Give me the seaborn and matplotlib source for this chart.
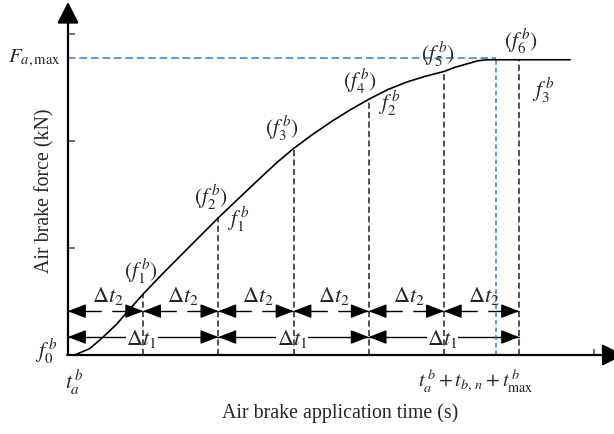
import numpy as np
import pandas as pd
import matplotlib
matplotlib.use("Agg")
import matplotlib.pyplot as plt
import seaborn as sns

# ---------------- data ----------------
curve_t = [0.09, 0.29, 0.47, 0.65, 0.81, 1.00, 1.30, 1.74, 2.01, 2.55, 2.78,
           3.00, 3.25, 3.50, 3.75, 4.00, 4.25, 4.50, 4.75, 5.00, 5.15, 5.30,
           5.45, 5.57, 6.68]
curve_f = [0.00, 0.06, 0.17, 0.29, 0.42, 0.57, 0.79, 1.10, 1.29, 1.65, 1.80,
           1.93, 2.06, 2.18, 2.29, 2.39, 2.48, 2.55, 2.605, 2.65, 2.69, 2.72,
           2.75, 2.76, 2.76]
step_t = [1, 2, 3, 4, 5, 6]
step_f = [0.57, 1.29, 1.93, 2.39, 2.65, 2.76]
f_max = 2.78
t_max = 5.69
y_ticks = [1, 2, 3]
x_ticks = [7.0]
dt2_bounds = [0, 1, 2, 3, 4, 5, 6]
dt1_bounds = [0, 2, 4, 6]
dt2_row = 0.41
dt1_row = 0.168

point_labels = [r"$(f_1^{\,b})$", r"$(f_2^{\,b})$", r"$f_1^{\,b}$", r"$(f_3^{\,b})$",
                r"$(f_4^{\,b})$", r"$f_2^{\,b}$", r"$(f_5^{\,b})$", r"$(f_6^{\,b})$",
                r"$f_3^{\,b}$"]
label_t = [0.97, 1.90, 2.27, 2.85, 3.88, 4.28, 4.92, 6.02, 6.32]
label_f = [0.78, 1.47, 1.27, 2.12, 2.56, 2.35, 2.81, 2.93, 2.47]

x_label = "Air brake application time (s)"
y_label = "Air brake force (kN)"

# ---------------- style ----------------
sns.set_style("white")
plt.rcParams["font.family"] = ["Liberation Serif", "DejaVu Serif"]
plt.rcParams["mathtext.fontset"] = "stix"

fig = plt.figure(figsize=(6.14, 4.34), dpi=100)
ax = fig.add_axes([68 / 614, 79 / 434, 545 / 614, 353 / 434])
ax.set_xlim(0, 7.25)
ax.set_ylim(0, 3.3)
for s in ax.spines.values():
    s.set_visible(False)
ax.set_facecolor("white")

df = pd.DataFrame({"t": curve_t, "f": curve_f})
sns.lineplot(data=df, x="t", y="f", ax=ax, color="black", lw=1.2,
             zorder=5, estimator=None, sort=False)
ax.set_xlabel("")
ax.set_ylabel("")

# ticks
ax.set_yticks(y_ticks)
ax.set_xticks(x_ticks)
ax.tick_params(axis="y", direction="in", length=5, width=1.1, color="#444444",
               labelleft=False, left=True)
ax.tick_params(axis="x", direction="in", length=4, width=1.1, color="#444444",
               labelbottom=False, bottom=True)

# axis arrows
ax_arrow = dict(arrowstyle="-|>,head_length=0.65,head_width=0.33",
                mutation_scale=20, lw=1.6, color="black",
                shrinkA=0, shrinkB=0)
ax.annotate("", xy=(0, 3.30), xytext=(0, 0), arrowprops=ax_arrow,
            annotation_clip=False, zorder=6)
ax.annotate("", xy=(7.39, 0), xytext=(-0.01, 0), arrowprops=ax_arrow,
            annotation_clip=False, zorder=6)

# dashed vertical step lines
for t, f in zip(step_t, step_f):
    ax.plot([t, t], [0, f], color="#222222", lw=1.1, dashes=(4, 2.2), zorder=4)

# blue max lines
blue = "#2f80c8"
ax.plot([0, t_max], [f_max, f_max], color=blue, lw=1.1, dashes=(5, 2.5), zorder=3)
ax.plot([t_max, t_max], [0, f_max], color=blue, lw=1.1, dashes=(3, 2), zorder=3)

# interval arrows
head = dict(arrowstyle="-|>,head_length=1.1,head_width=0.43",
            mutation_scale=10, lw=1, color="black", shrinkA=0, shrinkB=0)


def heads(a, b, row):
    ax.annotate("", xy=(a, row), xytext=(a + 0.2, row), arrowprops=head, zorder=4)
    ax.annotate("", xy=(b, row), xytext=(b - 0.2, row), arrowprops=head, zorder=4)


for a, b in zip(dt2_bounds[:-1], dt2_bounds[1:]):
    ax.plot([a, b], [dt2_row, dt2_row], color="black", lw=1, dashes=(24, 7.5),
            zorder=2)
    heads(a, b, dt2_row)
    ax.text((a + b) / 2 + 0.03, dt2_row + 0.14, r"$\Delta t_2$", ha="center",
            va="center", fontsize=16)

for a, b in zip(dt1_bounds[:-1], dt1_bounds[1:]):
    ax.plot([a, b], [dt1_row, dt1_row], color="black", lw=1, zorder=2)
    heads(a, b, dt1_row)
    ax.text((a + b) / 2 - 0.02, dt1_row - 0.02, r"$\Delta t_1$", ha="center",
            va="center", fontsize=16, zorder=3,
            bbox=dict(fc="white", ec="none", pad=0.5))

# point labels
for txt, t, f in zip(point_labels, label_t, label_f):
    ax.text(t, f, txt, ha="center", va="center", fontsize=15.5, zorder=6)

# axis annotations
ax.text(-0.45, f_max - 0.01, r"$F_{a,\mathrm{max}}$", ha="center", va="center",
        fontsize=15, clip_on=False)
ax.text(-0.29, 0.03, r"$f_0^{\,b}$", ha="center", va="center", fontsize=15.5,
        clip_on=False)
ax.text(0.08, -0.26, r"$t_a^{\,b}$", ha="center", va="center", fontsize=15.5,
        clip_on=False)
ax.text(5.43, -0.25, r"$t_a^{\,b}+t_{b,\,n}+t_{\mathrm{max}}^{\,b}$", ha="center",
        va="center", fontsize=14.5, clip_on=False)

fig.text(45 / 614, 1 - 191 / 434, y_label, rotation=90, ha="center", va="center",
         fontsize=14.3)
fig.text(340 / 614, 1 - 413 / 434, x_label, ha="center", va="center", fontsize=14.3)

fig.savefig("out.png", dpi=100, facecolor="white")
